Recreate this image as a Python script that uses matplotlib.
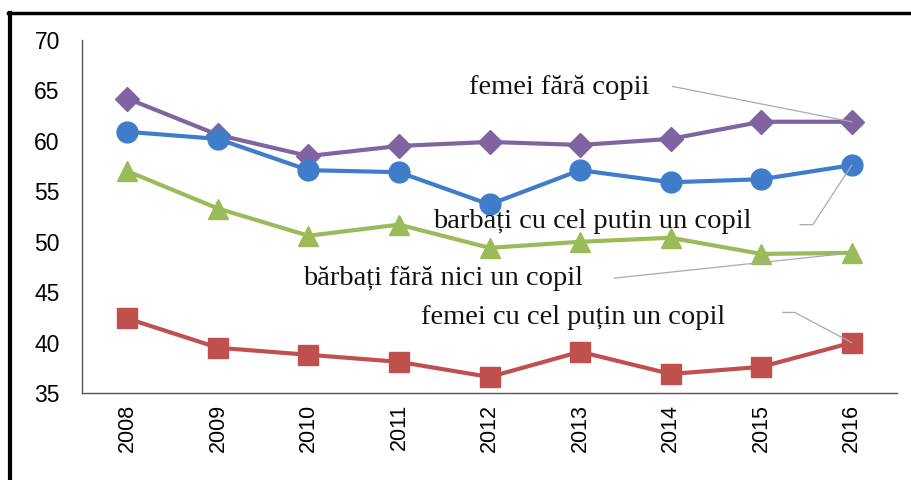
import matplotlib
matplotlib.use('Agg')
import matplotlib.pyplot as plt
from matplotlib.lines import Line2D

# Data
years = ['2008', '2009', '2010', '2011', '2012', '2013', '2014', '2015', '2016']
femei_fara_copii = [64.2, 60.6, 58.5, 59.5, 59.9, 59.6, 60.2, 61.9, 61.9]
barbati_cu_copil = [60.9, 60.2, 57.1, 56.9, 53.7, 57.1, 55.9, 56.2, 57.6]
barbati_fara_copil = [57.0, 53.3, 50.6, 51.7, 49.4, 50.0, 50.4, 48.8, 48.9]
femei_cu_copil = [42.4, 39.5, 38.8, 38.1, 36.6, 39.1, 36.9, 37.6, 40.0]

fig = plt.figure(figsize=(9.12, 4.8), dpi=100)
ax = fig.add_axes([0.09, 0.181, 0.8936, 0.7356])

x = range(len(years))
ax.plot(x, femei_fara_copii, color='#8064A2', lw=3, marker='D', ms=12)
ax.plot(x, barbati_cu_copil, color='#3F7DCB', lw=3, marker='o', ms=15)
ax.plot(x, barbati_fara_copil, color='#9BBB59', lw=3, marker='^', ms=15)
ax.plot(x, femei_cu_copil, color='#C0504D', lw=3, marker='s', ms=14)

ax.set_xlim(-0.5, 8.5)
ax.set_ylim(35, 70)
ax.set_yticks(range(35, 71, 5))
ax.set_xticks(list(x))
ax.set_xticklabels(years, rotation=90, fontsize=15.5, family='Liberation Sans')
for lab in ax.get_yticklabels():
    lab.set_fontsize(16.5)
    lab.set_family('Liberation Sans')
ax.tick_params(axis='y', length=0, pad=16)
ax.tick_params(axis='x', length=0, pad=8)
ax.spines['top'].set_visible(False)
ax.spines['right'].set_visible(False)
for s in ('left', 'bottom'):
    ax.spines[s].set_color('#555555')
    ax.spines[s].set_linewidth(1)

# labels with leader lines to the last point
tkw = dict(fontsize=20.5, family='Liberation Serif', color='#111111', va='center', ha='center')
lkw = dict(color='#aaaaaa', lw=0.9)
ax.text(4.77, 65.25, 'femei fără copii', **tkw)
ax.plot([6.02, 8], [65.4, 61.9], **lkw)
ax.text(5.13, 52.0, 'barbați cu cel putin un copil', **tkw)
ax.plot([7.43, 7.57, 8], [51.7, 51.7, 57.6], **lkw)
ax.text(3.48, 46.4, 'bărbați fără nici un copil', **tkw)
ax.plot([5.38, 8], [46.4, 48.9], **lkw)
ax.text(4.92, 42.45, 'femei cu cel puțin un copil', **tkw)
ax.plot([7.24, 7.37, 8], [43.0, 43.0, 40.0], **lkw)

# black frame on left and top like the screenshot
fig.add_artist(Line2D([0.011, 0.011], [0, 0.973], color='black', lw=3, transform=fig.transFigure))
fig.add_artist(Line2D([0.009, 1], [0.973, 0.973], color='black', lw=2.5, transform=fig.transFigure))

fig.savefig('out.png', dpi=100)
